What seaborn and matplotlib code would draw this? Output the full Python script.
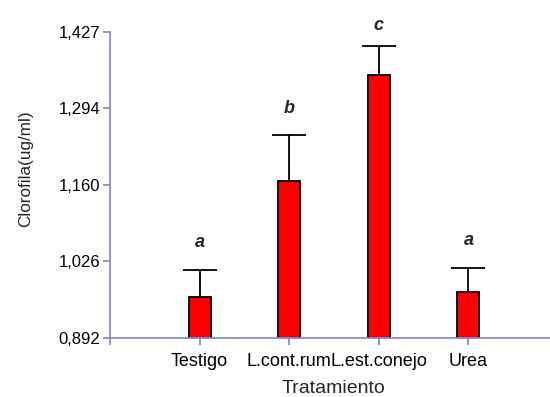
import matplotlib
matplotlib.use("Agg")
import matplotlib.pyplot as plt
import seaborn as sns
import pandas as pd
import numpy as np

categories = ["Testigo", "L.cont.rum", "L.est.conejo", "Urea"]
means = [0.964, 1.166, 1.352, 0.973]
errors = [0.047, 0.081, 0.051, 0.042]
letters = ["a", "b", "c", "a"]
yticks = [0.892, 1.026, 1.160, 1.294, 1.427]

sns.set_theme(style="white")
plt.rcParams['font.family'] = ['Liberation Sans', 'DejaVu Sans']

df = pd.DataFrame({"Tratamiento": categories, "Clorofila": means})

fig = plt.figure(figsize=(5.5, 3.97), dpi=100)
ax = fig.add_axes([0.2, 0.149, 0.80, 0.77])
axis_col = "#8484C8"

sns.barplot(data=df, x="Tratamiento", y="Clorofila", color="#FF0000",
            edgecolor="black", linewidth=1.3, width=0.245, saturation=1,
            errorbar=None, ax=ax)
eb = ax.errorbar(np.arange(len(categories)), means,
                 yerr=[np.zeros(len(means)), errors], fmt="none",
                 ecolor="black", elinewidth=1.3, capsize=12, capthick=1.3,
                 zorder=3)
# hide the lower caps (only upper error shown)
eb.lines[1][0].set_visible(False)

for i, (m, e, l) in enumerate(zip(means, errors, letters)):
    ypos = min(m + e + 0.047, 1.439)
    ax.text(i, ypos, l, ha="center", va="center", fontsize=13,
            fontweight="bold", fontstyle="italic", clip_on=False)

ax.set_ylim(0.892, 1.427)
ax.set_xlim(-1, 3.91)
ax.set_yticks(yticks)
ax.set_yticklabels([f"{v:.3f}".replace(".", ",") for v in yticks], fontsize=12)
ax.set_xticks(range(len(categories)))
ax.set_xticklabels(categories, fontsize=13)
ax.set_xticks([-1], minor=True)
ax.set_xlabel("Tratamiento", fontsize=14)
ax.set_ylabel("Clorofila(ug/ml)", fontsize=12.3)
ax.xaxis.set_label_coords(0.507, -0.138)
ax.yaxis.set_label_coords(-0.175, 0.552)

for s in ["top", "right"]:
    ax.spines[s].set_visible(False)
for s in ["left", "bottom"]:
    ax.spines[s].set_color(axis_col)
    ax.spines[s].set_linewidth(1.2)
ax.tick_params(axis="both", which="both", direction="out", length=5,
               width=1.2, color=axis_col, labelcolor="black")
ax.tick_params(axis="x", which="both", pad=6, bottom=True)
ax.tick_params(axis="y", pad=2, left=True)

fig.savefig("out.png", dpi=100, facecolor="white")
